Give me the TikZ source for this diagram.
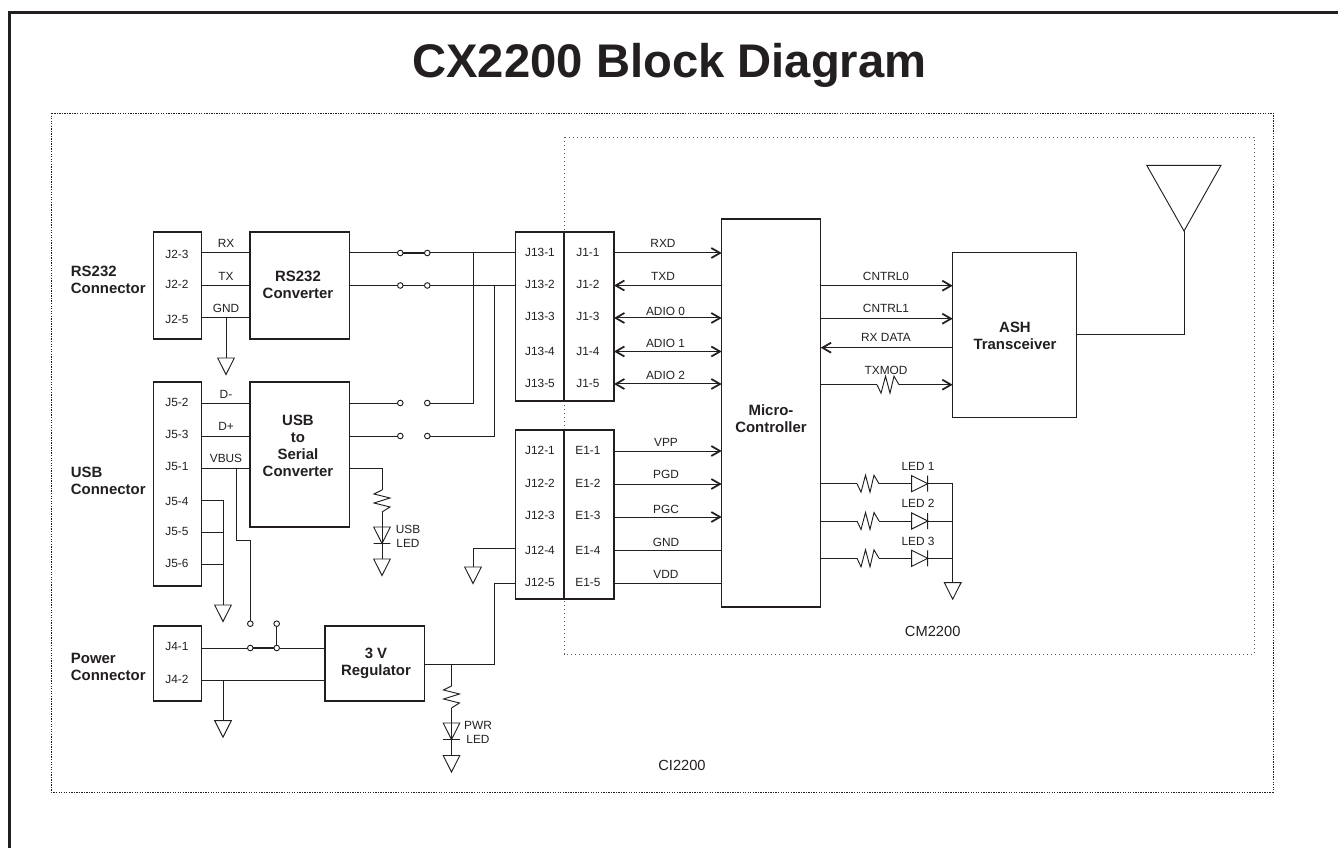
\documentclass[tikz,border=0pt]{standalone}
\usepackage{fontspec}
\setmainfont{Liberation Sans}
\usetikzlibrary{arrows.meta}
\definecolor{ink}{HTML}{231F20}
\tikzset{
  wire/.style={draw=ink,line width=0.75pt,line join=miter},
  blk/.style={draw=ink,line width=0.8pt,inner sep=0pt,outer sep=0pt,fill=white},
  lab/.style={text=ink,inner sep=0pt,yshift=-0.2pt,font=\fontsize{8.9}{10.3}\selectfont,align=center},
  biglab/.style={text=ink,inner sep=0pt,font=\fontsize{11}{13}\selectfont},
  bold/.style={text=ink,inner sep=0pt,font=\fontsize{11.2}{12.8}\selectfont\bfseries,align=center},
  boldl/.style={bold,align=left,anchor=west},
  term/.style={circle,draw=ink,line width=0.7pt,fill=white,inner sep=0pt,outer sep=0pt,minimum size=4.2pt},
  arr/.style={wire,-{Straight Barb[length=6.5pt,width=7.5pt,line width=1.3pt]}},
  arrb/.style={wire,{Straight Barb[length=6.5pt,width=7.5pt,line width=1.3pt]}-{Straight Barb[length=6.5pt,width=7.5pt,line width=1.3pt]}},
  arrl/.style={wire,{Straight Barb[length=6.5pt,width=7.5pt,line width=1.3pt]}-},
  gndsym/.pic={\draw[draw=ink,line width=0.7pt,line join=miter] (-8.3,0)--(8.3,0)--(0,16.5)--cycle;},
  resv/.pic={\draw[draw=ink,line width=0.7pt] (0,0)--(-8,4)--(8,8)--(-8,13)--(8,17)--(0,22);},
  resh/.pic={\draw[draw=ink,line width=0.7pt] (0,0)--(4,8.5)--(8.5,-8.5)--(13,8.5)--(17,-8.5)--(22,0);},
  ledv/.pic={\draw[draw=ink,line width=0.7pt,line join=miter] (-8.3,0)--(8.3,0)--(0,16.5)--cycle (-8.3,16.5)--(8.3,16.5);},
  ledh/.pic={\draw[draw=ink,line width=0.7pt,line join=miter] (0,-8)--(16,0)--(0,8)--cycle (16,-8)--(16,8);}
}
\newcommand{\blockbox}[5]{%
  \pgfmathsetmacro{\bw}{(#4-#2)*0.75}%
  \pgfmathsetmacro{\bh}{(#5-#3)*0.75}%
  \node[blk,minimum width=\bw pt,minimum height=\bh pt] (#1) at ({(#2+#4)/2},{(#3+#5)/2}) {};}
\begin{document}
\begin{tikzpicture}[x=0.75pt,y=-0.75pt]
\useasboundingbox (0,0) rectangle (1338,848);
% page frame
\coordinate (fa) at (9.5,848); \coordinate (fb) at (9.5,12.5); \coordinate (fc) at (1338,12.5);
\draw[draw=ink,line width=1.9pt,line join=miter] (fa)--(fb)--(fc);
\node[text=ink,inner sep=0pt,anchor=base,font=\fontsize{35.4}{40}\selectfont\bfseries] (title) at (669.5,77.7) {CX2200 Block Diagram};
% dotted frames
\draw[draw=ink,line width=0.7pt,dash pattern=on 1pt off 0.9pt] (51,113) rectangle (1273,792);
\draw[draw=ink!75,line width=0.7pt,dash pattern=on 0.8pt off 2.2pt] (564,137) rectangle (1254,654);
\node[biglab] (ci) at (682,765) {CI2200};
\node[biglab] (cm) at (932.7,631) {CM2200};
% blocks
\blockbox{j2}{153.5}{232}{201.5}{339}
\blockbox{rs}{250}{232}{349.5}{339}
\blockbox{j5}{153.5}{382}{201.5}{586}
\blockbox{usb}{250}{382}{349.5}{527}
\blockbox{j4}{153.5}{626}{201.5}{701}
\blockbox{reg}{325}{626}{424.7}{701}
\blockbox{j13}{515.7}{232}{564}{401}
\blockbox{j1}{564}{232}{614}{401}
\blockbox{j12}{515.7}{430}{564}{599}
\blockbox{e1}{564}{430}{614}{599}
\blockbox{mcu}{721.7}{219}{820.7}{607}
\blockbox{ash}{952.7}{252.3}{1076.7}{417.7}
% bold labels
\node[boldl] (l232) at (70.7,279.5) {RS232\\Connector};
\node[boldl] (lusb) at (70.7,480.5) {USB\\Connector};
\node[boldl] (lpwr) at (70.7,666.5) {Power\\Connector};
\node[bold] (trs) at (298,284.5) {RS232\\Converter};
\node[bold] (tusb) at (298,446) {USB\\to\\Serial\\Converter};
\node[bold] (treg) at (376,663.5) {3 V\\Regulator};
\node[bold] (tmcu) at (771,419) {Micro-\\Controller};
\node[bold] (tash) at (1015,335.5) {ASH\\Transceiver};
% pin labels
\foreach \n/\t/\xx/\yy in {
 a1/J2-3/177/254, a2/J2-2/177/284, a3/J2-5/177/319,
 b1/J5-2/177/402, b2/J5-3/177/434, b3/J5-1/177/466, b4/J5-4/177/501, b5/J5-5/177/531, b6/J5-6/177/563,
 c1/J4-1/177/646, c2/J4-2/177/679,
 d1/J13-1/540/252, d2/J13-2/540/284, d3/J13-3/540/316, d4/J13-4/540/351, d5/J13-5/540/383,
 e1t/J1-1/588/252, e2t/J1-2/588/284, e3t/J1-3/588/316, e4t/J1-4/588/351, e5t/J1-5/588/383,
 f1/J12-1/540/450, f2/J12-2/540/483, f3/J12-3/540/515, f4/J12-4/540/550, f5/J12-5/540/582,
 g1/E1-1/588/450, g2/E1-2/588/483, g3/E1-3/588/515, g4/E1-4/588/550, g5/E1-5/588/582,
 s1/RX/226/243, s2/TX/226/276, s3/GND/226/308, s4/D-/226/394, s5/D+/226/426, s6/VBUS/226/458,
 m1/RXD/663/243, m2/TXD/663/276, m3/ADIO 0/665.5/311, m4/ADIO 1/665.5/343, m5/ADIO 2/665.5/375,
 m6/VPP/666/442, m7/PGD/666/474, m8/PGC/666/509, m9/GND/666/542, m10/VDD/666/574,
 n1/CNTRL0/886/276, n2/CNTRL1/886/308, n3/RX DATA/886/337, n4/TXMOD/886/370,
 o1/LED 1/918/466, o2/LED 2/918/503.5, o3/LED 3/918/541}
  {\node[lab] (\n) at (\xx,\yy) {\t};}
\node[lab] (tul) at (408,536) {USB\\LED};
\node[lab] (tpl) at (478,732.5) {PWR\\LED};
% row levels
\foreach \n/\yy in {ya/253,yb/285.5,yc/318,yd/351.5,ye/384,yf/403,yg/436,yh/468,yi/500,yj/532,yk/564.7,yl/648,ym/680,yn/664,yo/583,yp/548.7,yq/451,yr/484,ys/517,yt/550,yu/583,yv/285.7,yw/318.7,yx/347.7,yy/384.7,yz/335,la/483.7,lb/521,lc/558.3}
  {\coordinate (\n) at (0,\yy);}
% RS232 connector wires
\draw[wire] (j2.east|-ya)--(rs.west|-ya);
\draw[wire] (j2.east|-yb)--(rs.west|-yb);
\draw[wire] (j2.east|-yc)--(rs.west|-yc);
\coordinate (g1top) at (226,358);
\draw[wire] (226,318)--(g1top);
\pic at (g1top) {gndsym};
% switches
\node[term] (sa) at (400.3,253) {};
\node[term] (sb) at (427.3,253) {};
\node[term] (sc) at (400.3,285.5) {};
\node[term] (sd) at (427.3,285.5) {};
\node[term] (se) at (400.3,403) {};
\node[term] (sf) at (427.3,403) {};
\node[term] (sg) at (400.3,436) {};
\node[term] (sh) at (427.3,436) {};
\draw[wire,line width=1.3pt] (sa)--(sb);
\draw[wire,line width=1.3pt] (sc)--(sd);
\draw[wire] (rs.east|-ya)--(sa);
\draw[wire] (rs.east|-yb)--(sc);
\draw[wire] (sb)--(j13.west|-ya);
\draw[wire] (sd)--(j13.west|-yb);
\draw[wire] (usb.east|-yf)--(se);
\draw[wire] (usb.east|-yg)--(sg);
\coordinate (ja) at (473,253); \coordinate (jb) at (473,403);
\coordinate (jc) at (494.5,285.5); \coordinate (jd) at (494.5,436);
\draw[wire] (sf)--(jb)--(ja);
\draw[wire] (sh)--(jd)--(jc);
% USB wires
\draw[wire] (j5.east|-yf)--(usb.west|-yf);
\draw[wire] (j5.east|-yg)--(usb.west|-yg);
\draw[wire] (j5.east|-yh)--(usb.west|-yh);
\coordinate (g2top) at (223,605);
\draw[wire] (j5.east|-yi)--(223,500)--(g2top);
\draw[wire] (j5.east|-yj)--(223,532);
\draw[wire] (j5.east|-yk)--(223,564.7);
\pic at (g2top) {gndsym};
\node[term] (vi) at (250.3,623.7) {};
\node[term] (vj) at (276.7,623.7) {};
\node[term] (vk) at (250.3,648) {};
\node[term] (vl) at (276.7,648) {};
\draw[wire] (236.7,468)--(236.7,540)--(250.3,540)--(vi);
\draw[wire] (vj)--(vl);
\draw[wire,line width=1.3pt] (vk)--(vl);
\draw[wire] (j4.east|-yl)--(vk);
\draw[wire] (vl)--(reg.west|-yl);
\draw[wire] (j4.east|-ym)--(reg.west|-ym);
\coordinate (g3top) at (223,720.7);
\draw[wire] (223,680)--(g3top);
\pic at (g3top) {gndsym};
% USB LED
\coordinate (ua) at (382,490); \coordinate (ub) at (382,512); \coordinate (uc) at (382,527); \coordinate (ud) at (382,543.5); \coordinate (ue) at (382,559);
\draw[wire] (usb.east|-yh)--(382,468)--(ua);
\pic at (ua) {resv};
\draw[wire] (ub)--(uc);
\pic at (uc) {ledv};
\draw[wire] (uc)--(ue);
\pic at (ue) {gndsym};
% regulator output
\coordinate (ra) at (451.5,664); \coordinate (rb) at (451.5,686); \coordinate (rc) at (451.5,708); \coordinate (rd) at (451.5,723); \coordinate (re) at (451.5,755.5);
\draw[wire] (reg.east|-yn)--(494.5,664)--(494.5,583)--(j12.west|-yo);
\draw[wire] (ra)--(rb);
\pic at (rb) {resv};
\draw[wire] (rc)--(rd);
\pic at (rd) {ledv};
\draw[wire] (rd)--(re);
\pic at (re) {gndsym};
% J12-4 ground
\coordinate (g4top) at (473,567);
\draw[wire] (j12.west|-yp)--(473,548.7)--(g4top);
\pic at (g4top) {gndsym};
% J1 to MCU
\draw[arr] (j1.east|-ya)--(mcu.west|-ya);
\draw[arrl] (j1.east|-yb)--(mcu.west|-yb);
\draw[arrb] (j1.east|-yc)--(mcu.west|-yc);
\draw[arrb] (j1.east|-yd)--(mcu.west|-yd);
\draw[arrb] (j1.east|-ye)--(mcu.west|-ye);
\draw[arr] (e1.east|-yq)--(mcu.west|-yq);
\draw[arr] (e1.east|-yr)--(mcu.west|-yr);
\draw[arr] (e1.east|-ys)--(mcu.west|-ys);
\draw[wire] (e1.east|-yt)--(mcu.west|-yt);
\draw[wire] (e1.east|-yu)--(mcu.west|-yu);
% MCU to ASH
\draw[arr] (mcu.east|-yv)--(ash.west|-yv);
\draw[arr] (mcu.east|-yw)--(ash.west|-yw);
\draw[arrl] (mcu.east|-yx)--(ash.west|-yx);
\coordinate (ta) at (877,384.7); \coordinate (tb) at (899,384.7);
\draw[wire] (mcu.east|-yy)--(ta);
\pic at (ta) {resh};
\draw[arr] (tb)--(ash.west|-yy);
% antenna
\coordinate (aa) at (1146.7,165.3); \coordinate (ab) at (1221,165.3); \coordinate (ac) at (1184,231); \coordinate (ad) at (1184,335);
\draw[draw=ink,line width=0.7pt,line join=miter] (aa)--(ab)--(ac)--cycle;
\draw[wire] (ac)--(ad)--(ash.east|-ad);
% LEDs
\foreach \yy in {483.7,521,558.3}{
  \coordinate (ra) at (857,\yy); \coordinate (rb) at (879,\yy); \coordinate (rc) at (911.7,\yy); \coordinate (rd) at (927.7,\yy); \coordinate (re) at (952.7,\yy);
  \draw[wire] (820.7,\yy)--(ra);
  \pic at (ra) {resh};
  \draw[wire] (rb)--(rc);
  \pic at (rc) {ledh};
  \draw[wire] (rd)--(re);
}
\coordinate (g5a) at (952.7,483.7); \coordinate (g5top) at (952.7,582.7);
\draw[wire] (g5a)--(g5top);
\pic at (g5top) {gndsym};
\end{tikzpicture}
\end{document}
